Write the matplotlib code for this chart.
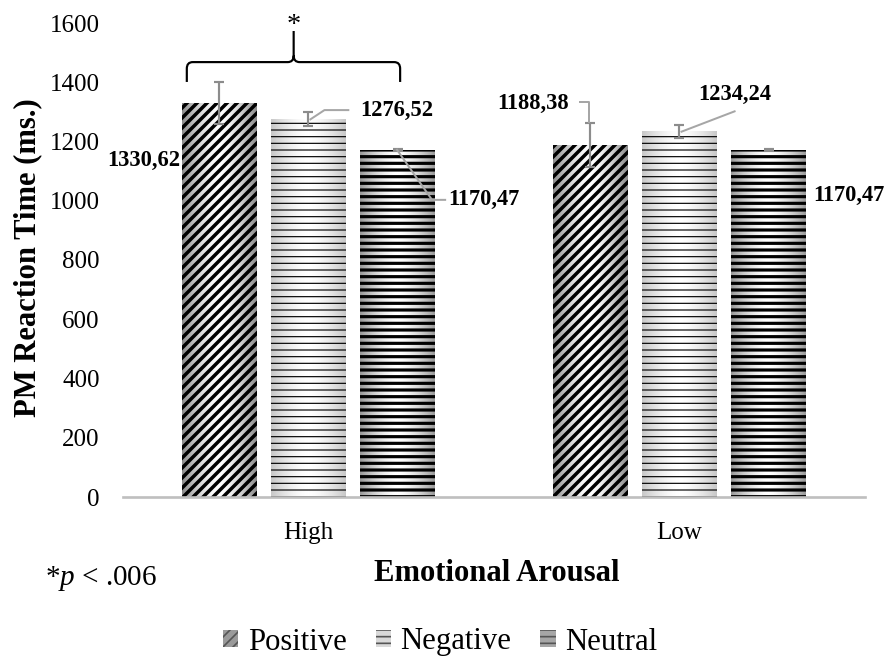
import matplotlib.pyplot as plt
import numpy as np
from matplotlib.path import Path
from matplotlib.patches import PathPatch, Patch
from matplotlib.colors import LinearSegmentedColormap

plt.rcParams['font.family'] = ['Liberation Serif', 'DejaVu Serif']
plt.rcParams['mathtext.fontset'] = 'custom'
plt.rcParams['mathtext.rm'] = 'Liberation Serif'
plt.rcParams['mathtext.it'] = 'Liberation Serif:italic'

# Data
categories = ['High', 'Low']
conditions = ['Positive', 'Negative', 'Neutral']
means = {
    'Positive': [1330.62, 1188.38],
    'Negative': [1276.52, 1234.24],
    'Neutral': [1170.47, 1170.47],
}
errors = {
    'Positive': [71, 74],
    'Negative': [24, 23],
    'Neutral': [3, 3],
}
value_labels = {
    'Positive': ['1330,62', '1188,38'],
    'Negative': ['1276,52', '1234,24'],
    'Neutral': ['1170,47', '1170,47'],
}
y_ticks = [0, 200, 400, 600, 800, 1000, 1200, 1400, 1600]

# styling per condition
hatches = {'Positive': '////', 'Negative': '---', 'Neutral': '---'}
hatch_lw = {'Positive': 2.1, 'Negative': 0.7, 'Neutral': 1.9}
edge_gray = {'Positive': '#8c8c8c', 'Negative': '#c8c8c8', 'Neutral': '#9a9a9a'}
legend_face = {'Positive': '#9a9a9a', 'Negative': '#d9d9d9', 'Neutral': '#a6a6a6'}

fig = plt.figure(figsize=(889 / 120, 659 / 120), dpi=120)
ax = fig.add_axes([123 / 889, 162 / 659, 742 / 889, 474 / 659])

x = np.arange(len(categories))
width = 0.2
offsets = [-0.24, 0, 0.24]

for cond, off in zip(conditions, offsets):
    # hatch drawn with black edgecolor, zero edge width
    bars = ax.bar(x + off, means[cond], width, facecolor='none', edgecolor='black',
                  linewidth=0, hatch=hatches[cond], zorder=3)
    cmap = LinearSegmentedColormap.from_list('g', [edge_gray[cond], 'white'])
    grad = 1 - np.abs(np.linspace(-1, 1, 64)) ** 1.6
    for b in bars:
        if hasattr(b, 'set_hatch_linewidth'):
            b.set_hatch_linewidth(hatch_lw[cond])
        x0, y0 = b.get_x(), b.get_y()
        im = ax.imshow(grad[np.newaxis, :], cmap=cmap, aspect='auto',
                       extent=(x0, x0 + b.get_width(), y0, y0 + b.get_height()),
                       zorder=2, interpolation='bilinear')
        im.set_clip_path(b)
    ax.errorbar(x + off, means[cond], yerr=errors[cond], fmt='none',
                ecolor='#8c8c8c', elinewidth=1.3, capsize=3.2, capthick=1.3, zorder=4)

ax.set_xlim(-0.5, 1.5)
ax.set_ylim(0, 1600)
ax.set_yticks(y_ticks)
ax.set_xticks(x)
ax.set_xticklabels(categories)
ax.tick_params(axis='both', length=0, labelsize=15)
ax.tick_params(axis='y', pad=14)
ax.tick_params(axis='x', pad=15)

for s in ['top', 'right', 'left']:
    ax.spines[s].set_visible(False)
ax.spines['bottom'].set_color('#bfbfbf')
ax.spines['bottom'].set_linewidth(1.6)
ax.spines['bottom'].set_zorder(5)

ax.set_ylabel('PM Reaction Time (ms.)', fontsize=18.4, fontweight='bold')
ax.yaxis.set_label_coords(-0.109, 0.506)
ax.set_xlabel('Emotional Arousal', fontsize=18.4, fontweight='bold')
ax.xaxis.set_label_coords(0.504, -0.13)

# value labels with leader lines
label_style = dict(fontsize=13.5, fontweight='bold', ha='center', va='center', zorder=6)
leader = dict(color='#a6a6a6', lw=1.2, zorder=5, solid_capstyle='butt')

ax.text(-0.445, 1137, value_labels['Positive'][0], **label_style)

ax.text(0.238, 1306, value_labels['Negative'][0], **label_style)
ax.plot([0.11, 0.043, 0.003], [1306, 1306, 1273], **leader)

ax.text(0.472, 1003, value_labels['Neutral'][0], **label_style)
ax.plot([0.371, 0.333, 0.237], [1003, 1003, 1175], **leader)

ax.text(0.605, 1330, value_labels['Positive'][1], **label_style)
ax.plot([0.728, 0.755, 0.755], [1333, 1333, 1262], **leader)

ax.text(1.149, 1360, value_labels['Negative'][1], **label_style)
ax.plot([1.151, 1.003], [1303, 1232], **leader)

ax.text(1.456, 1019, value_labels['Neutral'][1], **label_style)

# significance bracket over the High group
xl, xr, xc = -0.328, 0.247, -0.040
yb, yh, yp = 1401, 1468, 1573
rx, ry = 0.016, 22
verts = [(xl, yb), (xl, yh - ry), (xl, yh), (xl + rx, yh),
         (xc - rx, yh), (xc, yh), (xc, yh + ry), (xc, yp),
         (xc, yh + ry), (xc, yh), (xc + rx, yh),
         (xr - rx, yh), (xr, yh), (xr, yh - ry), (xr, yb)]
codes = [Path.MOVETO, Path.LINETO, Path.CURVE3, Path.CURVE3,
         Path.LINETO, Path.CURVE3, Path.CURVE3, Path.LINETO,
         Path.MOVETO, Path.CURVE3, Path.CURVE3,
         Path.LINETO, Path.CURVE3, Path.CURVE3, Path.LINETO]
ax.add_patch(PathPatch(Path(verts, codes), fill=False, edgecolor='black',
                       lw=1.3, clip_on=False, zorder=6))
ax.text(xc, 1592, '*', fontsize=17, ha='center', va='center', clip_on=False)

fig.text(45 / 889, 1 - 585 / 659, r'*$p$ < .006', fontsize=17.5, ha='left', va='baseline')

# legend
handles = [Patch(facecolor=legend_face[c], edgecolor='#555555', linewidth=0,
                 hatch=hatches[c], label=c) for c in conditions]
fig.legend(handles=handles, loc='center', bbox_to_anchor=(0.495, 1 - 642 / 659),
           ncol=3, frameon=False, fontsize=18.4, handlelength=0.5, handleheight=0.5,
           handletextpad=0.3, columnspacing=0.95)

plt.savefig('out.png', dpi=120)
